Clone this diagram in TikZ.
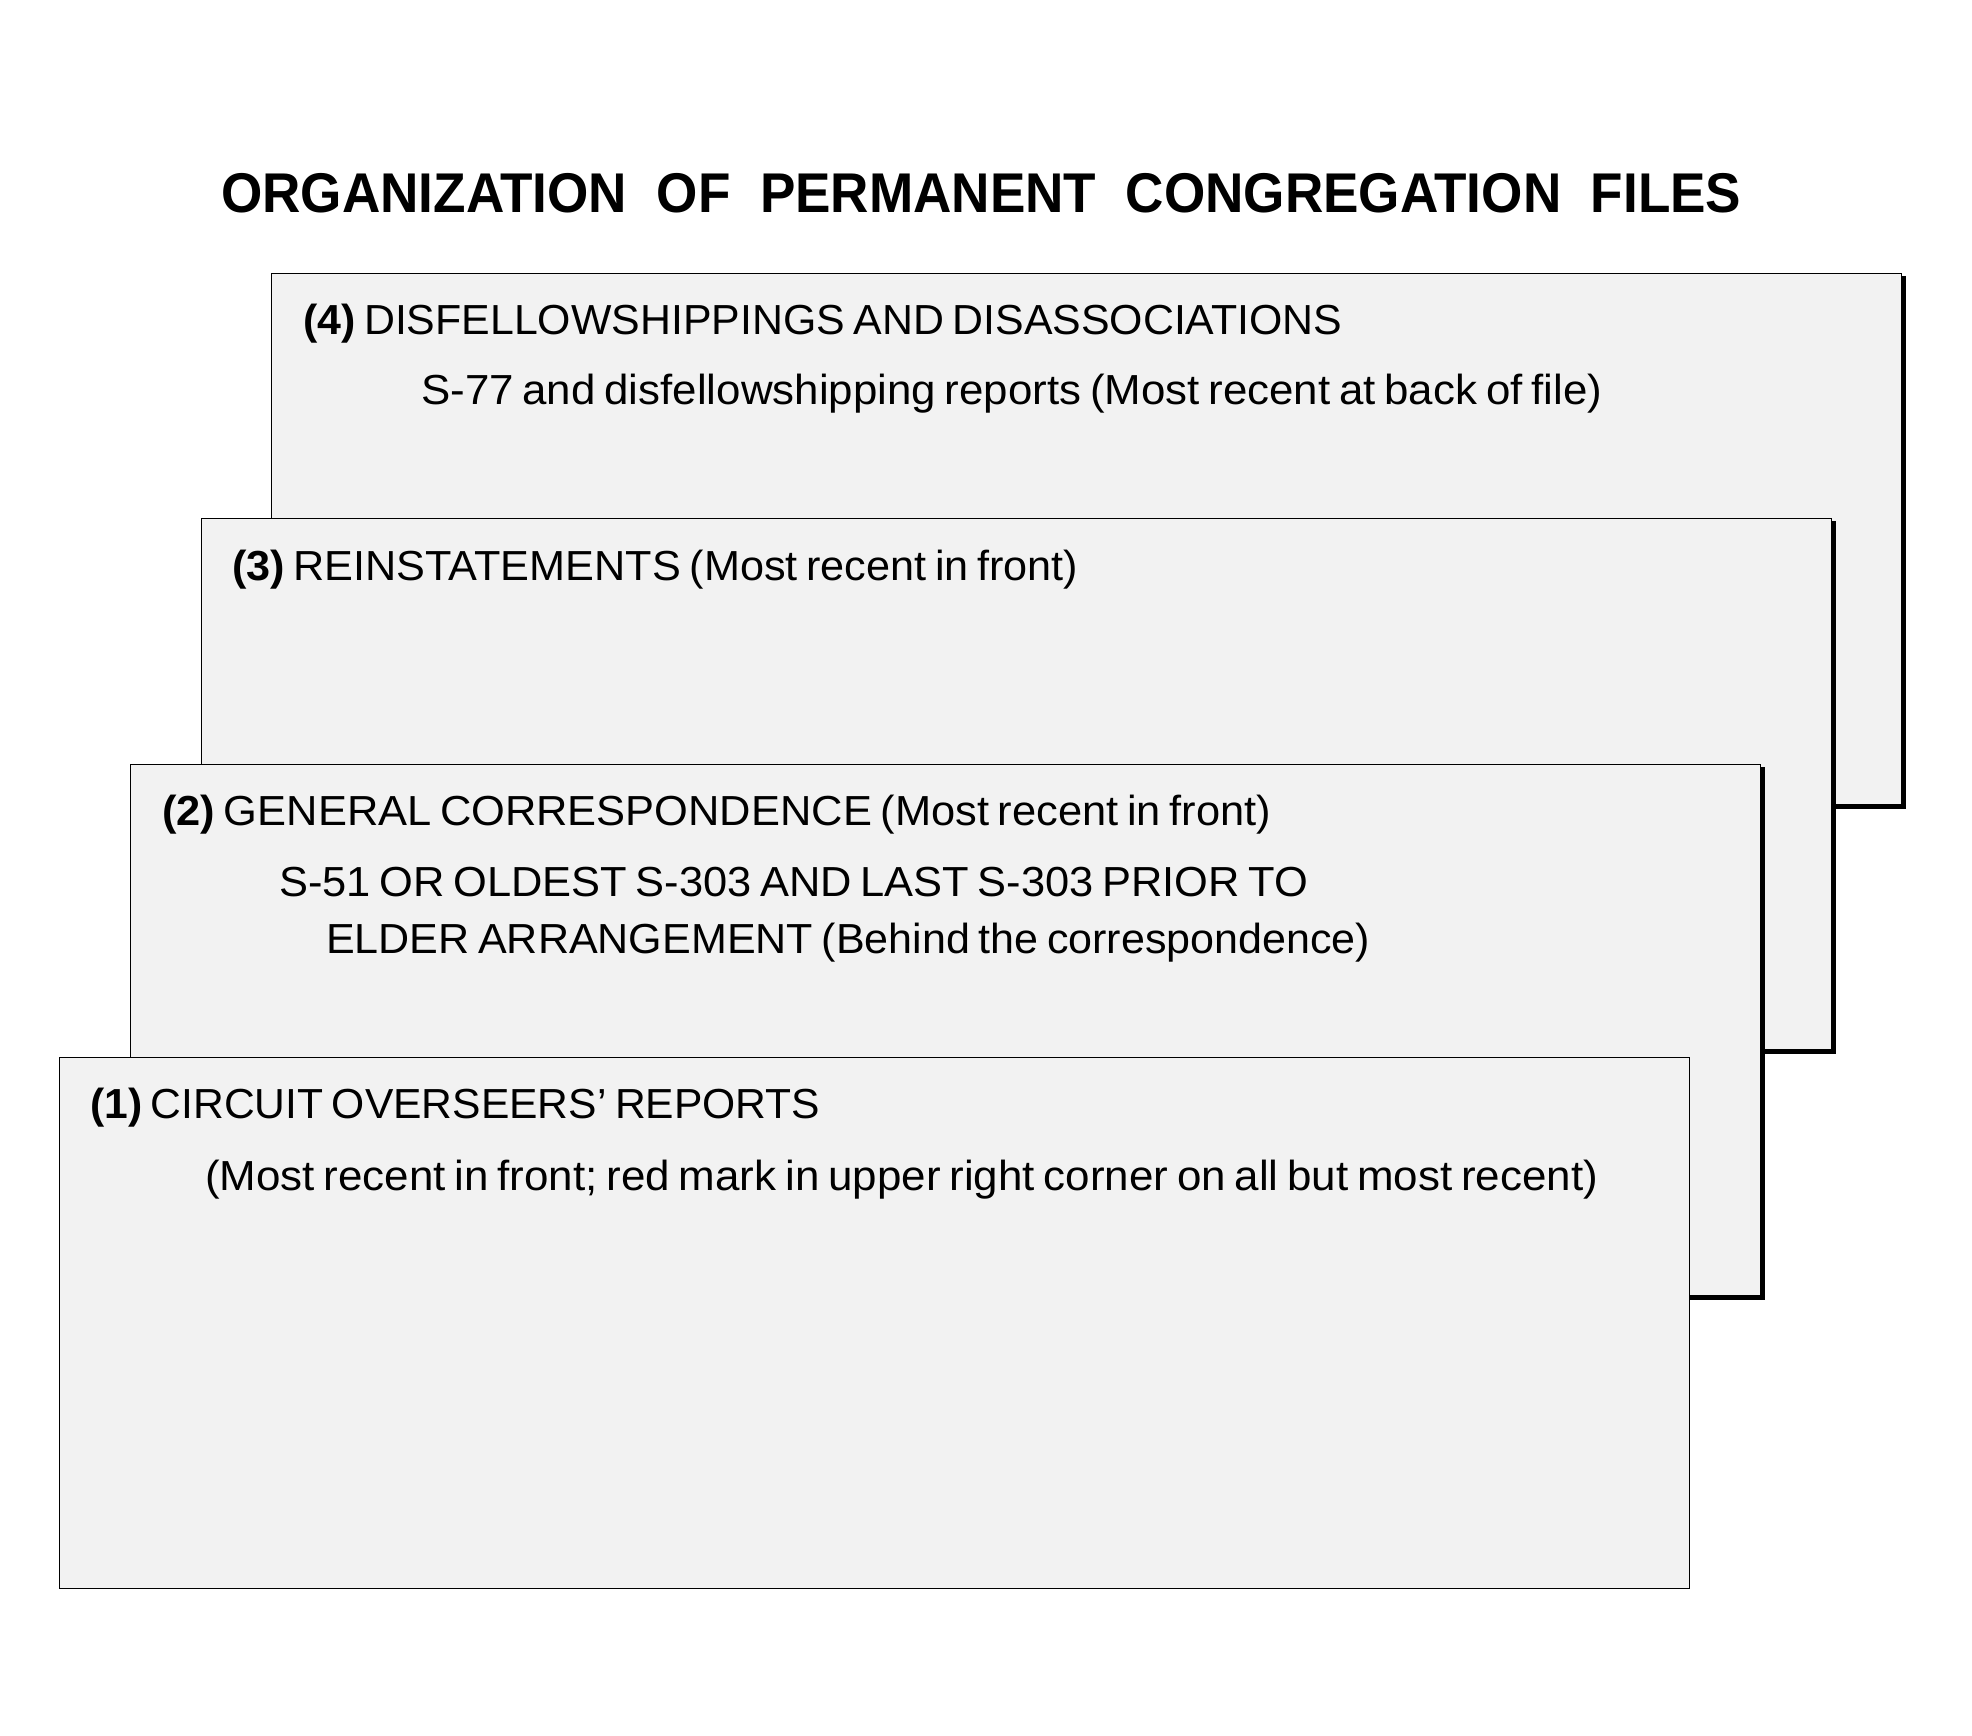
\documentclass[tikz,border=0pt]{standalone}
\usepackage{fontspec}
\setmainfont{Liberation Sans}
\usepackage{graphicx}
\definecolor{cardgray}{HTML}{F2F2F2}
\tikzset{
  card/.style={draw=black, line width=1.4pt, fill=cardgray, rectangle, anchor=north west,
    inner sep=0pt, minimum width=1630pt, minimum height=531pt},
  shadowline/.style={draw=black, line width=3.6pt},
  txt/.style={anchor=base west, inner sep=0pt, font=\fontsize{42}{50}\selectfont},
  ttl/.style={anchor=base west, inner sep=0pt, font=\bfseries\fontsize{56}{64}\selectfont},
}
\newcommand{\fitw}[2]{\resizebox{#1pt}{\height}{#2}}
\newcommand{\fitt}[2]{\resizebox{#1pt}{\height}{\spaceskip=0.2em\relax #2}}
\begin{document}
\begin{tikzpicture}[x=1pt,y=-1pt]
\path[use as bounding box, fill=white] (0,0) rectangle (1972,1736);

% title
\node[ttl] (title) at (221,213) {\fitw{1520}{ORGANIZATION\ \ OF\ \ PERMANENT\ \ CONGREGATION\ \ FILES}};

% card 4
\node[card] (b4) at (271,273) {};
\draw[shadowline] ([xshift=1.8pt,yshift=-3pt]b4.north east) -- ([xshift=1.8pt,yshift=-1.8pt]b4.south east) -- ([xshift=3pt,yshift=-1.8pt]b4.south west);
\node[txt] (t4a) at (303,334) {\fitt{1039}{{\bfseries (4)} DISFELLOWSHIPPINGS AND DISASSOCIATIONS}};
\node[txt] (t4b) at (421,404) {\fitt{1181}{S-77 and disfellowshipping reports (Most recent at back of file)}};

% card 3
\node[card] (b3) at (201,518) {};
\draw[shadowline] ([xshift=1.8pt,yshift=-3pt]b3.north east) -- ([xshift=1.8pt,yshift=-1.8pt]b3.south east) -- ([xshift=3pt,yshift=-1.8pt]b3.south west);
\node[txt] (t3a) at (232,580) {\fitt{846}{{\bfseries (3)} REINSTATEMENTS (Most recent in front)}};

% card 2
\node[card] (b2) at (130,764) {};
\draw[shadowline] ([xshift=1.8pt,yshift=-3pt]b2.north east) -- ([xshift=1.8pt,yshift=-1.8pt]b2.south east) -- ([xshift=3pt,yshift=-1.8pt]b2.south west);
\node[txt] (t2a) at (162,825) {\fitt{1109}{{\bfseries (2)} GENERAL CORRESPONDENCE (Most recent in front)}};
\node[txt] (t2b) at (279,896) {\fitt{1029}{S-51 OR OLDEST S-303 AND LAST S-303 PRIOR TO}};
\node[txt] (t2c) at (326,953) {\fitt{1044}{ELDER ARRANGEMENT (Behind the correspondence)}};

% card 1
\node[card] (b1) at (59,1057) {};
\node[txt] (t1a) at (90,1118) {\fitt{730}{{\bfseries (1)} CIRCUIT OVERSEERS’ REPORTS}};
\node[txt] (t1b) at (205,1190) {\fitt{1393}{(Most recent in front; red mark in upper right corner on all but most recent)}};
\end{tikzpicture}
\end{document}
